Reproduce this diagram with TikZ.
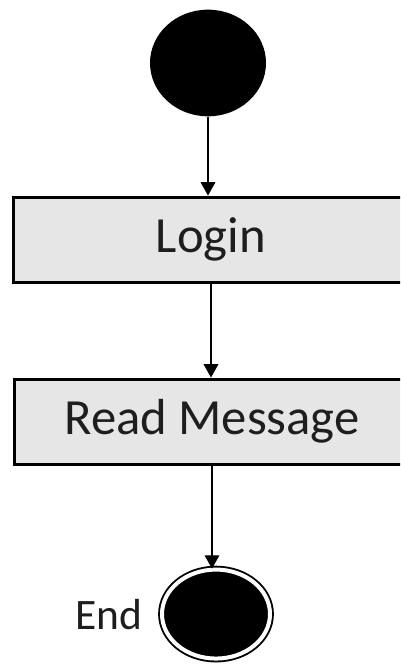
\documentclass[tikz,border=0pt]{standalone}
\usepackage{fontspec}
\setmainfont{Carlito}
\usetikzlibrary{arrows.meta,shapes.geometric,positioning}
\definecolor{ActGray}{HTML}{E7E6E6}
\definecolor{ActText}{HTML}{1E1E1E}

\begin{document}
\begin{tikzpicture}[x=0.75pt, y=-0.75pt,
    activity/.style={draw, line width=2.25pt, fill=ActGray, text=ActText,
        minimum width=297pt, minimum height=63.75pt,
        font=\fontsize{38pt}{40pt}\selectfont},
    flow/.style={-{Triangle[width=11pt,length=10pt]}, line width=0.9pt}]
                \clip (0,0) rectangle (400,666);
                \node[ellipse, fill=black, minimum width=87pt, minimum height=80pt] (start) at (208,63) {};
                \node[activity, below of=start, node distance=132.4pt, xshift=2.25pt] (login) {Login};
                \node[activity, below of=login, node distance=136.5pt, xshift=0.75pt] (read) {Read Message};
                \node[ellipse, fill=black, draw, line width=1.4pt, double=white, double distance=3pt,
                      minimum width=81pt, minimum height=66.75pt,
                      below of=read, node distance=144.4pt, xshift=3pt] (finish) {};
                \node[inner sep=0pt, text=ActText, font=\fontsize{32.6pt}{34pt}\selectfont,
                      left=14pt of finish] (finishlabel) {End};

                \draw[flow] (start.south) -- (start.south |- login.north);
                \draw[flow] (login.south) -- (login.south |- read.north);
                \draw[flow] (read.south) -- (read.south |- finish.north);
            \end{tikzpicture}
\end{document}
